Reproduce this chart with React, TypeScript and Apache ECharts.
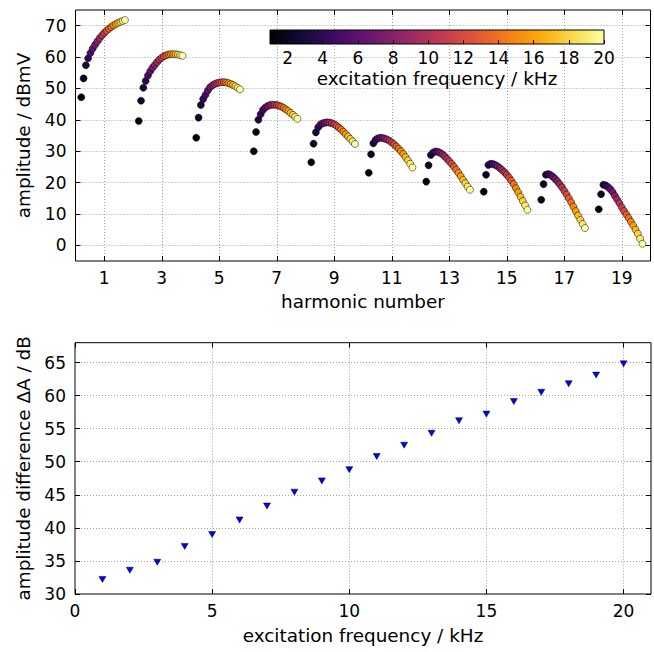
import React, { useEffect, useRef } from "react";
import * as echarts from "echarts";

// ---------- data ----------
const HARMONICS = [1, 3, 5, 7, 9, 11, 13, 15, 17, 19];
const FREQS = [1, 2, 3, 4, 5, 6, 7, 8, 9, 10, 11, 12, 13, 14, 15, 16, 17, 18, 19, 20];

const AMP_H1 = [47.2, 53.2, 57.4, 59.6, 61.3, 62.7, 63.9, 65.0, 66.0, 66.9, 67.7, 68.4, 69.0, 69.6, 70.1, 70.5, 70.9, 71.2, 71.5, 71.8];
const AMP_H3 = [39.6, 46.1, 50.2, 52.4, 54.1, 55.5, 56.6, 57.5, 58.4, 59.2, 59.8, 60.3, 60.6, 60.8, 60.9, 60.9, 60.9, 60.8, 60.6, 60.4];
const AMP_H5 = [34.3, 40.7, 44.7, 46.6, 47.9, 49.3, 50.4, 51.0, 51.4, 51.7, 51.9, 52.0, 52.0, 51.9, 51.7, 51.4, 51.1, 50.7, 50.2, 49.7];
const AMP_H7 = [30.0, 36.1, 40.0, 41.8, 43.1, 43.9, 44.4, 44.7, 44.8, 44.8, 44.7, 44.5, 44.2, 43.8, 43.3, 42.8, 42.2, 41.6, 41.0, 40.3];
const AMP_H9 = [26.5, 32.4, 36.0, 37.6, 38.5, 38.9, 39.1, 39.2, 39.1, 38.9, 38.6, 38.1, 37.5, 36.9, 36.2, 35.4, 34.7, 33.9, 33.1, 32.3];
const AMP_H11 = [23.1, 29.0, 32.5, 33.6, 34.1, 34.3, 34.2, 34.0, 33.7, 33.3, 32.8, 32.2, 31.5, 30.8, 30.0, 29.1, 28.1, 27.1, 26.0, 24.8];
const AMP_H13 = [20.3, 25.5, 28.8, 29.6, 29.9, 29.8, 29.5, 29.0, 28.4, 27.6, 26.8, 26.0, 25.1, 24.1, 23.1, 22.0, 20.9, 19.8, 18.7, 17.7];
const AMP_H15 = [17.1, 22.5, 25.6, 26.0, 25.9, 25.6, 25.2, 24.6, 24.0, 23.3, 22.5, 21.6, 20.6, 19.5, 18.2, 16.9, 15.5, 14.1, 12.7, 11.3];
const AMP_H17 = [14.5, 19.5, 22.5, 22.7, 22.4, 21.9, 21.2, 20.4, 19.5, 18.5, 17.4, 16.2, 15.0, 13.7, 12.3, 10.9, 9.5, 8.1, 6.8, 5.5];
const AMP_H19 = [11.5, 16.3, 19.3, 19.1, 18.6, 17.9, 17.0, 15.8, 14.6, 13.4, 12.1, 10.9, 9.8, 8.7, 7.5, 6.3, 5.0, 3.7, 2.1, 0.5];
const AMPLITUDES = [AMP_H1, AMP_H3, AMP_H5, AMP_H7, AMP_H9, AMP_H11, AMP_H13, AMP_H15, AMP_H17, AMP_H19];

// points of one harmonic are spread around it: first frequency at h-0.8, step 0.08 per kHz
const SPREAD_START = -0.8;
const SPREAD_STEP = 0.08;

const DELTA_A = [32.2, 33.6, 34.8, 37.2, 39.0, 41.2, 43.3, 45.4, 47.1, 48.8, 50.8, 52.5, 54.3, 56.2, 57.2, 59.1, 60.5, 61.8, 63.1, 64.8];

const TOP_X_TICKS = [1, 3, 5, 7, 9, 11, 13, 15, 17, 19];
const TOP_Y_TICKS = [0, 10, 20, 30, 40, 50, 60, 70];
const CBAR_TICKS = [2, 4, 6, 8, 10, 12, 14, 16, 18, 20];
const BOT_X_TICKS = [0, 5, 10, 15, 20];
const BOT_Y_TICKS = [30, 35, 40, 45, 50, 55, 60, 65];

const INFERNO = ["#000004", "#160b39", "#420a68", "#6a176e", "#932667", "#bc3754", "#dd513a", "#f37819", "#fca50a", "#f6d746", "#fcffa4"];

const FONT = "DejaVu Sans";
const TICK_FS = 17;
const NAME_FS = 18.4;

export default function App() {
  const ref = useRef<HTMLDivElement>(null);

  useEffect(() => {
    if (!ref.current) return;
    const chart = echarts.init(ref.current, undefined, { renderer: "svg" });

    const topData: number[][] = [];
    HARMONICS.forEach((h, i) => {
      FREQS.forEach((f, j) => {
        topData.push([h + SPREAD_START + SPREAD_STEP * (f - 1), AMPLITUDES[i][j], f]);
      });
    });
    const botData = FREQS.map((f, i) => [f, DELTA_A[i]]);

    const gridLine = { show: true, lineStyle: { color: "#8a8a8a", width: 0.8, type: [1, 2] as any } };
    const label = (vals: number[], margin = 8) => ({ customValues: vals, color: "#000", fontSize: TICK_FS, fontFamily: FONT, margin });
    const tick = (vals: number[], len = 5) => ({ show: true, inside: true, length: len, customValues: vals, lineStyle: { color: "#000", width: 1 } });
    const nameStyle = { fontSize: NAME_FS, color: "#000", fontFamily: FONT };
    const noLine = { show: false, onZero: false };

    const gradient = new echarts.graphic.LinearGradient(
      0, 0, 1, 0,
      INFERNO.map((c, i) => ({ offset: i / (INFERNO.length - 1), color: c }))
    );

    chart.setOption({
      animation: false,
      backgroundColor: "#fff",
      textStyle: { fontFamily: FONT },
      grid: [
        { left: 75.5, top: 10, width: 575, height: 251, show: true, borderColor: "#000", borderWidth: 1, backgroundColor: "transparent" },
        { left: 75, top: 342.7, width: 576, height: 251.3, show: true, borderColor: "#000", borderWidth: 1, backgroundColor: "transparent" },
        { left: 270, top: 30, width: 334, height: 14, show: true, borderColor: "#000", borderWidth: 1, backgroundColor: gradient, z: 5 },
      ],
      visualMap: {
        show: false, type: "continuous", min: 1, max: 20, dimension: 2, seriesIndex: 0,
        inRange: { color: INFERNO },
      },
      xAxis: [
        {
          gridIndex: 0, type: "value", min: 0, max: 20, position: "bottom",
          axisLine: noLine, axisTick: tick(TOP_X_TICKS), axisLabel: label(TOP_X_TICKS), splitLine: gridLine,
          name: "harmonic number", nameLocation: "middle", nameGap: 31, nameTextStyle: nameStyle,
        },
        {
          gridIndex: 0, type: "value", min: 0, max: 20, position: "top",
          axisLine: noLine, axisTick: tick(TOP_X_TICKS), axisLabel: { show: false }, splitLine: { show: false },
        },
        {
          gridIndex: 1, type: "value", min: 0, max: 21, position: "bottom",
          axisLine: noLine, axisTick: tick(BOT_X_TICKS), axisLabel: label(BOT_X_TICKS), splitLine: gridLine,
          name: "excitation frequency / kHz", nameLocation: "middle", nameGap: 32, nameTextStyle: nameStyle,
        },
        {
          gridIndex: 1, type: "value", min: 0, max: 21, position: "top",
          axisLine: noLine, axisTick: tick(BOT_X_TICKS), axisLabel: { show: false }, splitLine: { show: false },
        },
        {
          gridIndex: 2, type: "value", min: 1, max: 20, position: "bottom", z: 10,
          axisLine: noLine, axisTick: tick(CBAR_TICKS, 4), axisLabel: label(CBAR_TICKS, 5), splitLine: { show: false },
          name: "excitation frequency / kHz", nameLocation: "middle", nameGap: 25, nameTextStyle: nameStyle,
        },
      ],
      yAxis: [
        {
          gridIndex: 0, type: "value", min: -5, max: 75, position: "left",
          axisLine: noLine, axisTick: tick(TOP_Y_TICKS), axisLabel: label(TOP_Y_TICKS, 9), splitLine: gridLine,
          name: "amplitude / dBmV", nameLocation: "middle", nameGap: 43, nameTextStyle: nameStyle,
        },
        {
          gridIndex: 0, type: "value", min: -5, max: 75, position: "right",
          axisLine: noLine, axisTick: tick(TOP_Y_TICKS), axisLabel: { show: false }, splitLine: { show: false },
        },
        {
          gridIndex: 1, type: "value", min: 30, max: 68, position: "left",
          axisLine: noLine, axisTick: tick(BOT_Y_TICKS), axisLabel: label(BOT_Y_TICKS, 9), splitLine: gridLine,
          name: "amplitude difference \u0394A / dB", nameLocation: "middle", nameGap: 43, nameTextStyle: nameStyle,
        },
        {
          gridIndex: 1, type: "value", min: 30, max: 68, position: "right",
          axisLine: noLine, axisTick: tick(BOT_Y_TICKS), axisLabel: { show: false }, splitLine: { show: false },
        },
        { gridIndex: 2, type: "value", min: 0, max: 1, show: false },
      ],
      series: [
        {
          type: "scatter", xAxisIndex: 0, yAxisIndex: 0, data: topData,
          symbol: "circle", symbolSize: 7,
          itemStyle: { borderColor: "#000", borderWidth: 0.5, opacity: 1 },
          z: 3,
        },
        {
          type: "scatter", xAxisIndex: 2, yAxisIndex: 2, data: botData,
          symbol: "triangle", symbolRotate: 180, symbolSize: [7, 6],
          itemStyle: { color: "#0000ff", borderColor: "#000", borderWidth: 0.5, opacity: 1 },
          z: 3,
        },
      ],
    });

    return () => chart.dispose();
  }, []);

  return (
    <div
      ref={ref}
      style={{ position: "fixed", left: 0, top: 0, width: 654, height: 652, background: "#fff" }}
    />
  );
}
